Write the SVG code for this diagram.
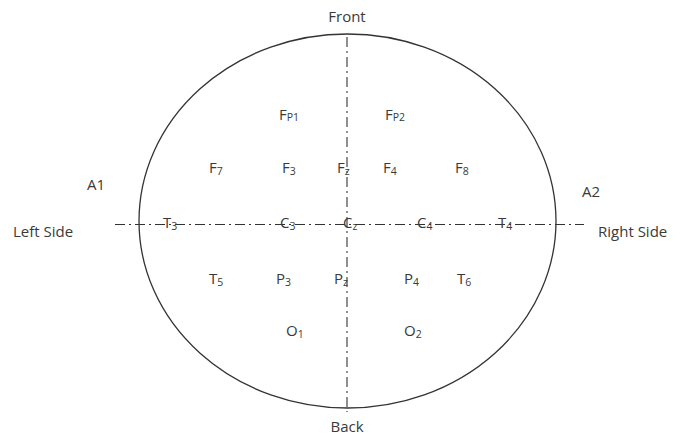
<svg xmlns="http://www.w3.org/2000/svg" width="683" height="439" viewBox="0 0 683 439">
<style>
text{font-family:"Open Sans","Liberation Sans",sans-serif;font-size:15px;fill:#3a3a3a}
.s{font-size:10.5px}
.ax{stroke:#333;stroke-width:1.1;fill:none;stroke-dasharray:10,4,2,4}
</style>
<rect width="683" height="439" fill="#fff"/>
<g id="head"><ellipse cx="347.5" cy="221" rx="208.5" ry="187" fill="none" stroke="#333" stroke-width="1.3"/></g>
<g id="connectors">
<line class="ax" x1="347" y1="37" x2="347" y2="412"/>
<line class="ax" x1="115" y1="224.5" x2="584" y2="224.5"/>
</g>
<g id="labels">
<text x="347" y="22" text-anchor="middle">Front</text>
<text x="347" y="432" text-anchor="middle">Back</text>
<text x="13" y="237">Left Side</text>
<text x="598" y="237">Right Side</text>
<text x="87" y="190">A1</text>
<text x="582" y="197">A2</text>
</g>
<g id="Fp1"><text x="279" y="120">F<tspan class="s" dy="1">P1</tspan></text></g>
<g id="Fp2"><text x="385" y="120">F<tspan class="s" dy="1">P2</tspan></text></g>
<g id="F7"><text x="209" y="173">F<tspan class="s" dy="2">7</tspan></text></g>
<g id="F3"><text x="282" y="173">F<tspan class="s" dy="2">3</tspan></text></g>
<g id="Fz"><text x="337" y="173">F<tspan class="s" dy="2">z</tspan></text></g>
<g id="F4"><text x="383" y="173">F<tspan class="s" dy="2">4</tspan></text></g>
<g id="F8"><text x="455" y="173">F<tspan class="s" dy="2">8</tspan></text></g>
<g id="T3"><text x="163" y="228">T<tspan class="s" dy="2">3</tspan></text></g>
<g id="C3"><text x="280" y="228">C<tspan class="s" dy="2">3</tspan></text></g>
<g id="Cz"><text x="343" y="228">C<tspan class="s" dy="2">z</tspan></text></g>
<g id="C4"><text x="417" y="228">C<tspan class="s" dy="2">4</tspan></text></g>
<g id="T4"><text x="498" y="228">T<tspan class="s" dy="2">4</tspan></text></g>
<g id="T5"><text x="209" y="284">T<tspan class="s" dy="2">5</tspan></text></g>
<g id="P3"><text x="276" y="284">P<tspan class="s" dy="2">3</tspan></text></g>
<g id="Pz"><text x="334" y="284">P<tspan class="s" dy="2">z</tspan></text></g>
<g id="P4"><text x="404" y="284">P<tspan class="s" dy="2">4</tspan></text></g>
<g id="T6"><text x="457" y="284">T<tspan class="s" dy="2">6</tspan></text></g>
<g id="O1"><text x="286" y="336">O<tspan class="s" dy="2">1</tspan></text></g>
<g id="O2"><text x="404" y="336">O<tspan class="s" dy="2">2</tspan></text></g>
</svg>
